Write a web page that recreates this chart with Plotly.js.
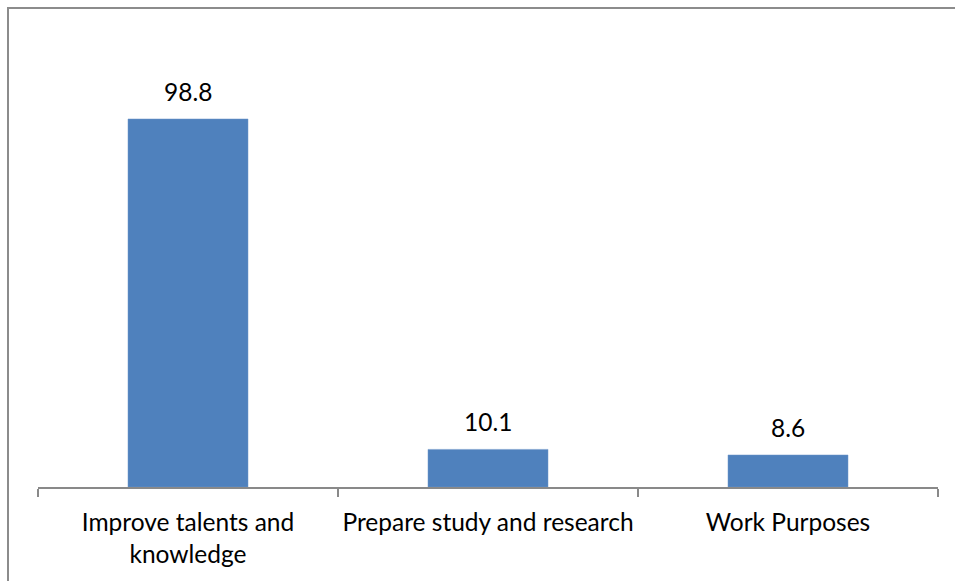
<!DOCTYPE html>
<html>
<head>
<meta charset="utf-8">
<script src="https://cdn.plot.ly/plotly-3.0.1.min.js"></script>
<style>
html,body{margin:0;padding:0;background:#fff;}
#wrap{position:relative;width:955px;height:581px;overflow:hidden;}
#frame{position:absolute;left:7px;top:7px;width:960px;height:590px;border-top:2px solid #8c8c8c;border-left:2px solid #8c8c8c;box-sizing:border-box;pointer-events:none;}
#chart{position:absolute;left:0;top:0;width:955px;height:581px;}
</style>
</head>
<body>
<div id="wrap">
<div id="chart"></div>
<div id="frame"></div>
</div>
<script>
const categories = ["Improve talents and<br>knowledge", "Prepare study and research", "Work Purposes"];
const values = [98.8, 10.1, 8.6];
const valueLabels = ["98.8", "10.1", "8.6"];

const fontFamily = "Lato, 'Open Sans', sans-serif";

const trace = {
  type: "bar",
  x: categories,
  y: values,
  marker: {color: "#4F81BD", line: {color: "#6f97c9", width: 0.5}},
  hoverinfo: "x+y"
};

const annotations = categories.map((c, i) => ({
  x: c, y: values[i], xref: "x", yref: "y",
  text: valueLabels[i], showarrow: false,
  yanchor: "bottom", yshift: 11,
  font: {family: fontFamily, size: 24.5, color: "#000"}
}));

const layout = {
  width: 955, height: 581,
  margin: {l: 38, r: 17, t: 40, b: 94},
  paper_bgcolor: "rgba(0,0,0,0)",
  plot_bgcolor: "rgba(0,0,0,0)",
  bargap: 0.6,
  showlegend: false,
  font: {family: fontFamily, size: 24.5, color: "#000"},
  xaxis: {
    type: "category",
    showline: true, linecolor: "#898989", linewidth: 2,
    ticks: "outside", tickson: "boundaries", ticklen: 8, tickwidth: 2, tickcolor: "#898989",
    showgrid: false, zeroline: false,
    tickangle: 0,
    tickfont: {family: fontFamily, size: 24.5, color: "#000"},
    ticklabelstandoff: 13
  },
  yaxis: {
    range: [0, 120], visible: false, showgrid: false, zeroline: false
  },
  annotations: annotations
};

Plotly.newPlot("chart", [trace], layout, {displayModeBar: false, staticPlot: true});
</script>
</body>
</html>
